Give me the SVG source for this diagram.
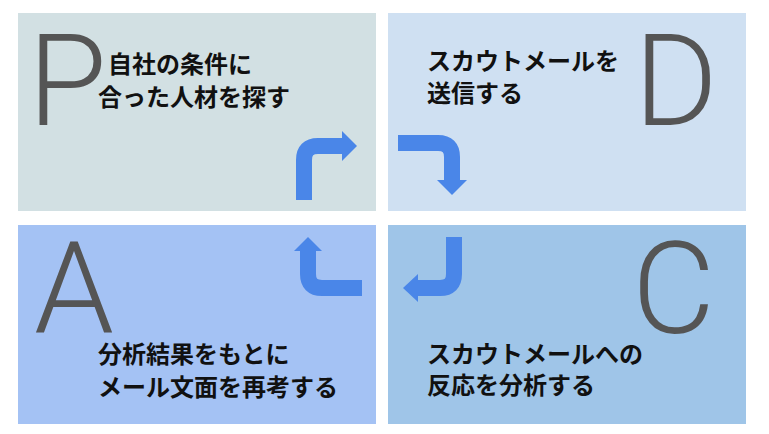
<svg xmlns="http://www.w3.org/2000/svg" width="769" height="434" viewBox="0 0 769 434">
<style>
.big{font-family:Roboto,"Open Sans",sans-serif;font-weight:300;font-size:128px;fill:#555}
.t{font-family:"Noto Sans CJK JP",sans-serif;font-weight:700;font-size:24px;fill:#111}
.ar{fill:none;stroke:#4a86e8;stroke-width:16}
.hd{fill:#4a86e8}
</style>
<rect width="769" height="434" fill="#fff"/>
<g id="P"><rect x="18" y="13" width="358" height="198" fill="#d2e0e3"/><text class="big" x="28" y="125">P</text><text class="t" x="108" y="73">自社の条件に</text><text class="t" x="98" y="106">合った人材を探す</text></g>
<g id="D"><rect x="388" y="13" width="358" height="198" fill="#cfe0f2"/><text class="big" x="634" y="125">D</text><text class="t" x="427" y="70">スカウトメールを</text><text class="t" x="427" y="102">送信する</text></g>
<g id="A"><rect x="18" y="225" width="358" height="199" fill="#a4c2f4"/><text class="big" x="34" y="333">A</text><text class="t" x="98" y="363">分析結果をもとに</text><text class="t" x="98" y="396">メール文面を再考する</text></g>
<g id="C"><rect x="388" y="225" width="358" height="199" fill="#9fc5e8"/><text class="big" x="632" y="333">C</text><text class="t" x="427" y="363">スカウトメールへの</text><text class="t" x="427" y="394">反応を分析する</text></g>
<g id="connectors">
<path class="ar" d="M304,200 V160 Q304,146 318,146 H343"/><polygon class="hd" points="342,131 357,146 342,161"/>
<path class="ar" d="M398,143 H438 Q452,143 452,157 V181"/><polygon class="hd" points="437,180 467,180 452,195"/>
<path class="ar" d="M454,237 V274 Q454,288 440,288 H417"/><polygon class="hd" points="418,274 403,288 418,302"/>
<path class="ar" d="M308,250 V274 Q308,288 322,288 H362"/><polygon class="hd" points="294,251 308,237 322,251"/>
</g>
</svg>
